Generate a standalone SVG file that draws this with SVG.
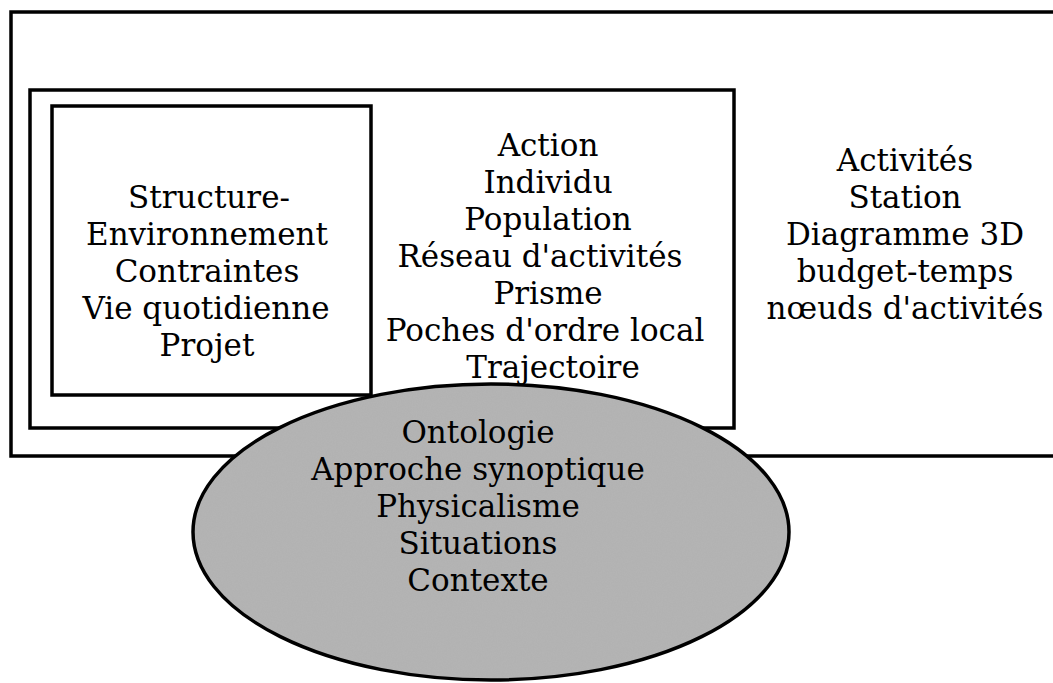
<svg xmlns="http://www.w3.org/2000/svg" width="1053" height="683" viewBox="0 0 1053 683">
<style>
.box{fill:none;stroke:#000;stroke-width:3.5}
.t{font-family:"DejaVu Serif","Liberation Serif",serif;font-size:31px;fill:#000;text-anchor:middle}
</style>
<defs>
<filter id="grain" x="0" y="0" width="100%" height="100%">
<feTurbulence type="fractalNoise" baseFrequency="0.8" numOctaves="2" seed="3" result="n"/>
<feColorMatrix in="n" type="matrix" values="0 0 0 0 0.5  0 0 0 0 0.5  0 0 0 0 0.5  1.2 0 0 0 -0.3" result="g"/>
<feComposite in="g" in2="SourceGraphic" operator="in"/>
</filter>
</defs>
<rect width="1053" height="683" fill="#fff"/>
<g id="outer">
<rect class="box" x="11" y="12" width="1060" height="444"/>
<text class="t" x="905" y="171">Activités</text>
<text class="t" x="905" y="208">Station</text>
<text class="t" x="905" y="245">Diagramme 3D</text>
<text class="t" x="905" y="282">budget-temps</text>
<text class="t" x="905" y="319">nœuds d'activités</text>
</g>
<g id="middle">
<rect class="box" x="30" y="90" width="704" height="338"/>
<text class="t" x="548" y="156">Action</text>
<text class="t" x="548" y="193">Individu</text>
<text class="t" x="548" y="230">Population</text>
<text class="t" x="540" y="267">Réseau d'activités</text>
<text class="t" x="548" y="304">Prisme</text>
<text class="t" x="545" y="341">Poches d'ordre local</text>
<text class="t" x="553" y="378">Trajectoire</text>
</g>
<g id="inner">
<rect class="box" x="52" y="106" width="319" height="289"/>
<text class="t" x="209" y="208">Structure-</text>
<text class="t" x="207" y="245">Environnement</text>
<text class="t" x="207" y="282">Contraintes</text>
<text class="t" x="206" y="319">Vie quotidienne</text>
<text class="t" x="207" y="356">Projet</text>
</g>
<g id="ellipse">
<ellipse cx="491" cy="532" rx="298" ry="148" fill="#b2b2b2"/>
<ellipse cx="491" cy="532" rx="298" ry="148" fill="#000" filter="url(#grain)" opacity="0.35"/>
<ellipse cx="491" cy="532" rx="298" ry="148" fill="none" stroke="#000" stroke-width="3.5"/>
<text class="t" x="478" y="443">Ontologie</text>
<text class="t" x="478" y="480">Approche synoptique</text>
<text class="t" x="478" y="517">Physicalisme</text>
<text class="t" x="478" y="554">Situations</text>
<text class="t" x="478" y="591">Contexte</text>
</g>
<g id="connectors"></g>
</svg>
